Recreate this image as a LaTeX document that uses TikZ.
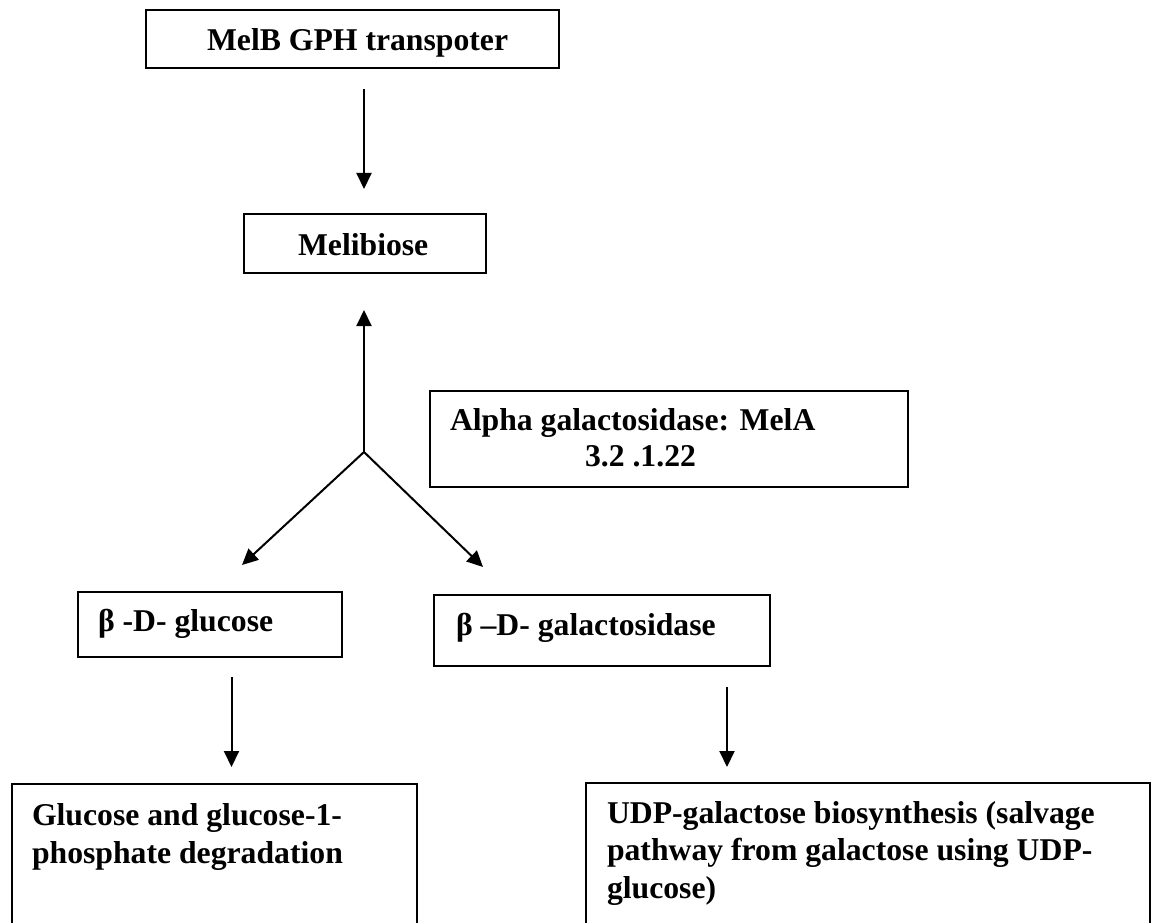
\documentclass[tikz,border=0pt]{standalone}
\usepackage{fontspec}
\setmainfont{Liberation Serif}
\usetikzlibrary{arrows.meta}
\tikzset{
  boxnode/.style={draw=black, line width=2pt, rectangle, anchor=north west, inner sep=0pt, outer sep=0pt},
  txt/.style={anchor=base west, inner sep=0pt, outer sep=0pt, font=\fontsize{31.7}{37.5}\selectfont\bfseries},
  arr/.style={line width=2pt, -{Triangle[width=15pt,length=16pt]}}
}
\begin{document}
\begin{tikzpicture}[x=1pt,y=-1pt]
\useasboundingbox (0,0) rectangle (1152,923);
\clip (0,0) rectangle (1152,923);
% boxes
\node[boxnode, minimum width=413pt, minimum height=58pt] (melb) at (146,10) {};
\node[boxnode, minimum width=242pt, minimum height=59pt] (meli) at (244,214) {};
\node[boxnode, minimum width=478pt, minimum height=96pt] (alpha) at (430,391) {};
\node[boxnode, minimum width=264pt, minimum height=65pt] (glc) at (78,592) {};
\node[boxnode, minimum width=336pt, minimum height=71pt] (gal) at (434,595) {};
\node[boxnode, minimum width=405pt, minimum height=160pt] (deg) at (12,784) {};
\node[boxnode, minimum width=564pt, minimum height=160pt] (udp) at (586,783) {};
% texts
\node[txt] (tmelb) at (207,51) {MelB GPH transpoter};
\node[txt] (tmeli) at (298,255) {Melibiose};
\node[txt] (talpha1) at (450,430) {Alpha galactosidase: MelA};
\node[txt] (talpha2) at (585,466) {3.2 .1.22};
\node[txt] (tglc) at (98,631) {β -D- glucose};
\node[txt] (tgal) at (456,635) {β –D- galactosidase};
\node[txt] (tdeg1) at (32,825) {Glucose and glucose-1-};
\node[txt] (tdeg2) at (32,863) {phosphate degradation};
\node[txt] (tudp1) at (607,823) {UDP-galactose biosynthesis (salvage};
\node[txt] (tudp2) at (607,860) {pathway from galactose using UDP-};
\node[txt] (tudp3) at (607,898) {glucose)};
% connector end points
\coordinate (a1s) at (364,89);
\coordinate (a1e) at (364,189);
\coordinate (j) at (364,452);
\coordinate (upe) at (364,310);
\coordinate (le) at (242,565);
\coordinate (re) at (483,567);
\coordinate (d1s) at (231.5,677);
\coordinate (d1e) at (231.5,767);
\coordinate (d2s) at (727,687);
\coordinate (d2e) at (727,767);
% connectors
\draw[arr] (a1s) -- (a1e);
\draw[arr] (j) -- (upe);
\draw[arr] (j) -- (le);
\draw[arr] (j) -- (re);
\draw[arr] (d1s) -- (d1e);
\draw[arr] (d2s) -- (d2e);
\end{tikzpicture}
\end{document}
